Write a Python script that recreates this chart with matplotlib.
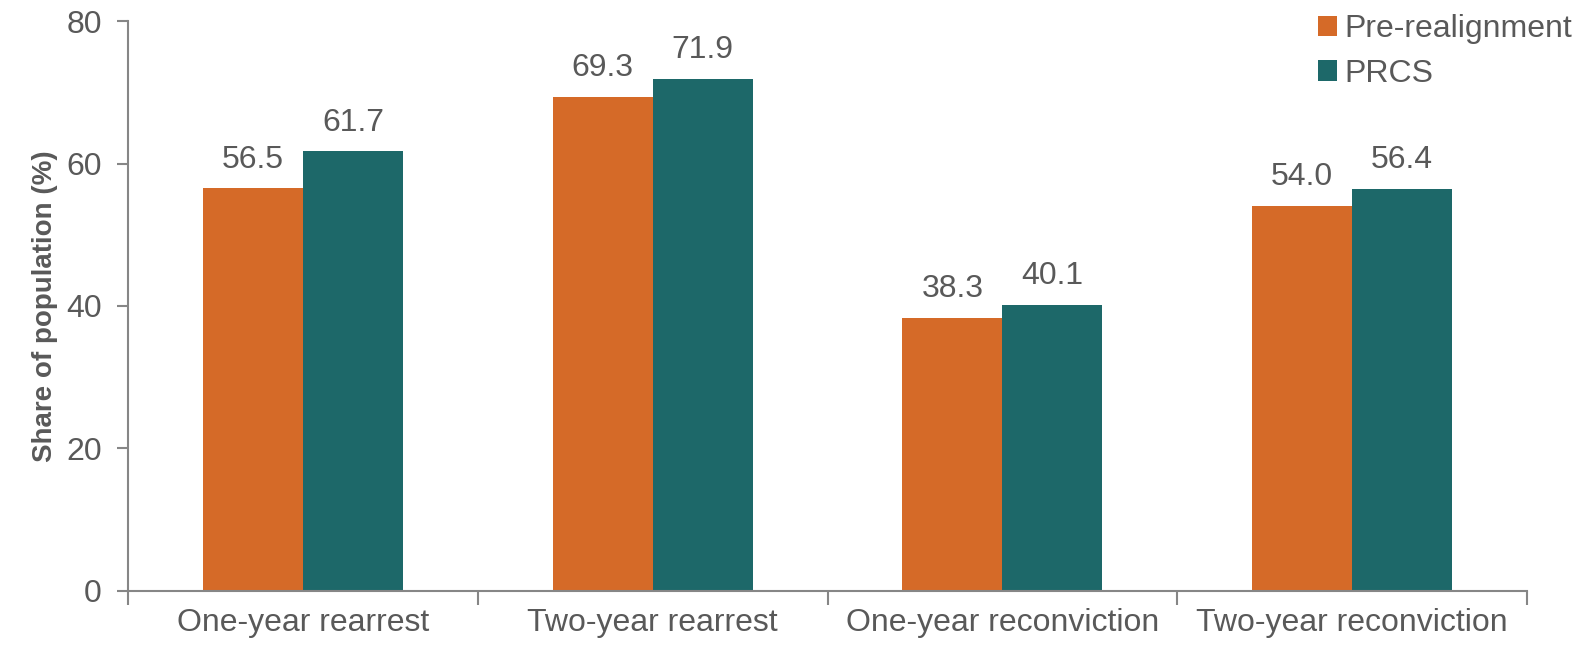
import matplotlib
matplotlib.use("Agg")
import matplotlib.pyplot as plt
import numpy as np

categories = ["One-year rearrest", "Two-year rearrest", "One-year reconviction", "Two-year reconviction"]
pre_realignment = [56.5, 69.3, 38.3, 54.0]
prcs = [61.7, 71.9, 40.1, 56.4]
series_names = ["Pre-realignment", "PRCS"]
yticks = [0, 20, 40, 60, 80]

plt.rcParams['font.family'] = ['Liberation Sans', 'DejaVu Sans']
text_color = "#595959"
axis_color = "#868686"
orange = "#D56A28"
teal = "#1D6869"

fig = plt.figure(figsize=(15.77, 6.47), dpi=100)
ax = fig.add_axes([0.0812, 0.0866, 0.8871, 0.8809])

x = np.arange(len(categories))
w = 100 / 350
b1 = ax.bar(x - w / 2, pre_realignment, w, color=orange, label=series_names[0])
b2 = ax.bar(x + w / 2, prcs, w, color=teal, label=series_names[1])

for bars, vals in ((b1, pre_realignment), (b2, prcs)):
    for r, v in zip(bars, vals):
        ax.annotate(f"{v:.1f}", (r.get_x() + r.get_width() / 2, v), xytext=(0, 10),
                    textcoords="offset points", ha="center", va="bottom",
                    fontsize=23, color=text_color)

ax.set_xlim(-0.5, len(categories) - 0.5)
ax.set_ylim(0, 80)
ax.set_yticks(yticks)
ax.set_yticklabels([str(t) for t in yticks])
ax.set_xticks(x)
ax.set_xticklabels(categories)
ax.set_xticks(np.arange(len(categories) + 1) - 0.5, minor=True)
ax.tick_params(axis='x', which='major', length=0, pad=12, labelsize=23, labelcolor=text_color)
ax.tick_params(axis='x', which='minor', length=10, width=1.5, color=axis_color, direction='out')
ax.tick_params(axis='y', length=8, width=1.5, color=axis_color, labelsize=23,
               labelcolor=text_color, pad=11)

for s in ("top", "right"):
    ax.spines[s].set_visible(False)
for s in ("left", "bottom"):
    ax.spines[s].set_color(axis_color)
    ax.spines[s].set_linewidth(1.5)

ax.set_ylabel("Share of population (%)", fontsize=20, fontweight="bold", color=text_color, labelpad=6)

leg = ax.legend(loc="upper right", bbox_to_anchor=(1.053, 1.062), frameon=False, fontsize=23,
                handlelength=0.6, handleheight=0.6, handletextpad=0.25, labelspacing=0.45,
                labelcolor=text_color)

fig.savefig("out.png", dpi=100)
